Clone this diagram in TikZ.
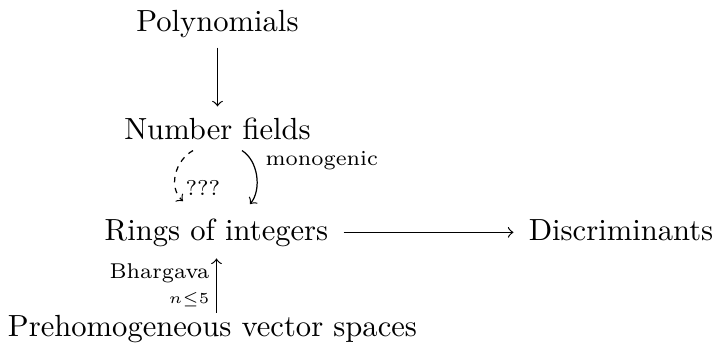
\documentclass[tikz,border=0pt]{standalone}
\usepackage{amsmath}
\begin{document}
\begin{tikzpicture}[x=0.3268pt,y=-0.3268pt,
  obj/.style={inner sep=0pt,anchor=base,text height=6.94pt,text depth=1.94pt},
  lbl/.style={inner sep=0pt,font=\scriptsize},
  arr/.style={->,line width=0.4pt},
  dasharr/.style={arr,dash pattern=on 1.8pt off 1.8pt}]
\useasboundingbox (0,0) rectangle (719,353);
\node[obj] (poly) at (217.5,31) {Polynomials};
\node[obj] (nf) at (217.5,139) {Number fields};
\node[obj] (ri) at (216.5,240) {Rings of integers};
\node[obj] (disc) at (621,240) {Discriminants};
\node[obj] (ph) at (212.5,336) {Prehomogeneous vector spaces};
\draw[arr,shorten <=3.3pt,shorten >=3.5pt] (poly.south) -- (nf.north);
\draw[arr,shorten <=4.8pt,shorten >=4.8pt] (ri.east) -- (disc.west);
\draw[arr,shorten <=0.5pt,shorten >=3.9pt] (ri.south |- ph.north) -- (ri.south);
\draw[arr] ([shift={(24.5,5)}]nf.south) .. controls ([shift={(40.5,15)}]nf.south) and ([shift={(45.5,-29)}]ri.north) .. ([shift={(33.5,-14)}]ri.north);
\draw[dasharr] ([shift={(-24.5,5)}]nf.south) .. controls ([shift={(-42.5,15)}]nf.south) and ([shift={(-48.5,-31)}]ri.north) .. ([shift={(-33.5,-17)}]ri.north);
\node[lbl,anchor=base west] (mono) at (265,165) {monogenic};
\node[lbl,anchor=base west] (qqq) at (185,195) {???};
\node[lbl,anchor=base east] (bh) at (210,278) {Bhargava};
\node[lbl,anchor=base east] (nle) at (210,303) {$\scriptstyle n\leq5$};
\end{tikzpicture}
\end{document}
